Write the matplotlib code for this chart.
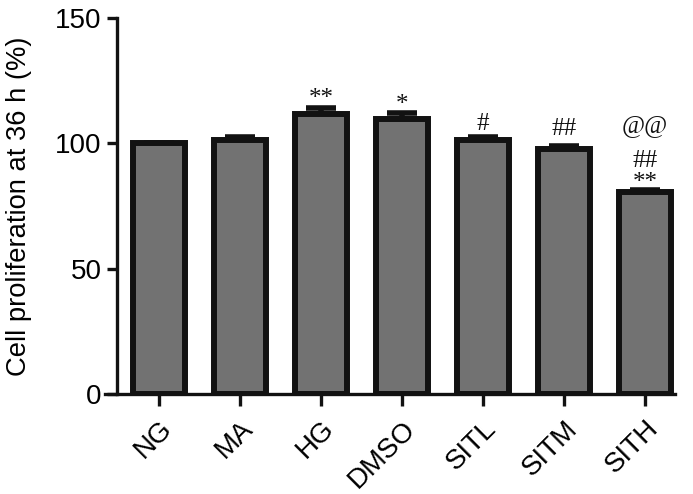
import matplotlib
matplotlib.use("Agg")
import matplotlib.pyplot as plt
import matplotlib.transforms as mtransforms
import numpy as np

categories = ["NG", "MA", "HG", "DMSO", "SITL", "SITM", "SITH"]
values = [100.0, 101.5, 111.7, 109.7, 101.4, 97.8, 80.6]
errors = [0.0, 1.0, 2.4, 2.4, 1.0, 1.0, 0.8]
# annotations: (category index, text, y position in data units)
annot_idx = [2, 3, 4, 5, 6, 6, 6]
annot_txt = ["**", "*", "#", "##", "@@", "##", "**"]
annot_y = [117.8, 115.1, 107.7, 105.7, 106.9, 93.0, 84.0]
yticks = [0, 50, 100, 150]
ylabel = "Cell proliferation at 36 h (%)"

plt.rcParams['font.family'] = ['Liberation Sans', 'DejaVu Sans']
fig = plt.figure(figsize=(6.93, 4.94), dpi=100)
ax = fig.add_axes([105/693, 1 - 394/494, (675 - 105)/693, (394 - 18)/494])

x = np.arange(len(categories))
ax.bar(x, values, width=0.65, color="#727272", edgecolor="#121212", linewidth=4.3, zorder=2)
ax.errorbar(x, values, yerr=[np.zeros(len(errors)), errors], fmt='none', ecolor="#121212",
            elinewidth=4, capsize=11, capthick=4, zorder=1)

for i, t, yy in zip(annot_idx, annot_txt, annot_y):
    ax.text(x[i], yy, t, ha='center', va='center', fontsize=18,
            family=['Liberation Serif', 'DejaVu Serif'], color="#121212")

ax.set_xlim(-0.667, 6.37)
ax.set_ylim(0, 150)
ax.spines['left'].set_position(('data', -0.519))
ax.spines['top'].set_visible(False)
ax.spines['right'].set_visible(False)
for s in ['left', 'bottom']:
    ax.spines[s].set_linewidth(2.4)
    ax.spines[s].set_color("#121212")
ax.set_yticks(yticks)
ax.set_xticks(x)
ax.set_xticklabels(categories, rotation=45, ha='right', rotation_mode='anchor', fontsize=20)
offset = mtransforms.ScaledTranslation(14/100, 0, fig.dpi_scale_trans)
for lab in ax.get_xticklabels():
    lab.set_transform(lab.get_transform() + offset)
ax.tick_params(axis='y', labelsize=20, length=7, width=2.4, color="#121212", pad=4)
ax.tick_params(axis='x', length=8.6, width=2.4, color="#121212", pad=7)
ax.set_ylabel(ylabel, fontsize=19.7, labelpad=17)

fig.savefig("out.png", dpi=100)
